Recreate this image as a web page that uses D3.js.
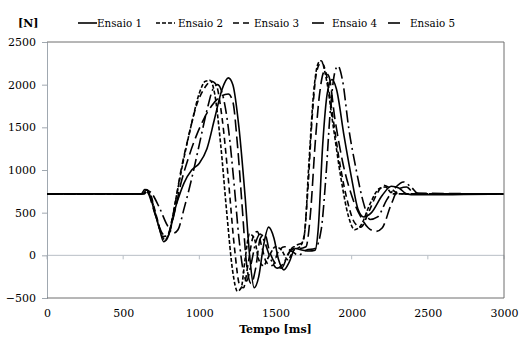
<!DOCTYPE html>
<html><head><meta charset="utf-8">
<script src="https://cdn.jsdelivr.net/npm/d3@7"></script>
<style>body{margin:0;background:#fff;}svg{display:block;}</style>
</head><body>
<svg id="c" width="519" height="338"></svg>
<script>
const seriesNames = ["Ensaio 1","Ensaio 2","Ensaio 3","Ensaio 4","Ensaio 5"];
const xTicks = [0,500,1000,1500,2000,2500,3000];
const yTicks = [-500,0,500,1000,1500,2000,2500];

const ensaio1 = [[0,720],[620,720],[640,770],[660,760],[700,550],[740,300],[765,160],[790,200],[850,600],[900,850],[950,1000],[1000,1080],[1050,1250],[1100,1600],[1150,1950],[1190,2080],[1220,2000],[1260,1500],[1300,700],[1330,0],[1360,-380],[1390,-250],[1420,100],[1455,330],[1490,200],[1520,-50],[1555,-170],[1590,-80],[1630,80],[1680,60],[1720,50],[1760,60],[1780,300],[1810,1300],[1840,1900],[1870,2060],[1900,1950],[1950,1400],[2000,900],[2040,550],[2080,450],[2130,500],[2200,700],[2260,810],[2310,790],[2360,720],[2420,710],[3000,720]];
const ensaio2 = [[0,720],[630,720],[650,760],[670,740],[710,500],[750,250],[775,180],[800,260],[850,700],[900,1150],[950,1550],[1000,1900],[1040,2040],[1070,2050],[1100,1900],[1140,1300],[1180,500],[1220,-200],[1250,-420],[1275,-380],[1300,-50],[1330,250],[1360,200],[1390,-50],[1420,-120],[1460,0],[1500,100],[1540,60],[1580,-50],[1620,60],[1660,100],[1690,250],[1720,1100],[1750,1900],[1780,2250],[1800,2280],[1830,2100],[1880,1500],[1930,900],[1980,450],[2020,300],[2060,350],[2120,600],[2180,780],[2220,800],[2270,720],[3000,720]];
const ensaio3 = [[0,720],[630,720],[650,770],[670,750],[720,450],[760,220],[790,230],[830,500],[880,1000],[930,1400],[980,1750],[1030,1950],[1080,2040],[1110,2000],[1150,1600],[1190,900],[1230,100],[1265,-350],[1290,-380],[1320,-100],[1350,200],[1380,280],[1410,100],[1440,-80],[1480,-120],[1520,50],[1560,100],[1600,60],[1640,120],[1680,150],[1710,700],[1740,1600],[1770,2150],[1800,2260],[1830,2150],[1870,1700],[1920,1100],[1970,650],[2020,380],[2060,330],[2110,500],[2160,700],[2210,820],[2260,780],[2310,720],[3000,720]];
const ensaio4 = [[0,720],[620,720],[640,760],[660,740],[710,480],[760,250],[790,220],[830,450],[880,850],[930,1150],[980,1400],[1030,1600],[1080,1750],[1130,1850],[1190,1890],[1220,1800],[1250,1300],[1280,600],[1310,-100],[1340,-330],[1370,-150],[1400,200],[1430,250],[1460,50],[1500,-100],[1540,-150],[1580,0],[1620,100],[1660,80],[1700,100],[1730,500],[1760,1300],[1790,1900],[1820,2150],[1850,2100],[1890,1600],[1940,1100],[2000,700],[2060,450],[2110,320],[2160,280],[2200,320],[2260,600],[2310,780],[2360,800],[2410,730],[3000,720]];
const ensaio5 = [[0,720],[640,720],[660,760],[680,740],[740,550],[790,350],[830,260],[860,300],[900,550],[950,900],[1000,1300],[1050,1700],[1090,1950],[1120,2000],[1150,1900],[1190,1500],[1230,800],[1260,200],[1290,-200],[1310,-300],[1340,-100],[1370,150],[1400,250],[1430,150],[1470,-50],[1510,-150],[1550,-100],[1600,50],[1650,0],[1700,60],[1760,80],[1800,300],[1830,900],[1860,1700],[1890,2150],[1910,2220],[1940,2050],[1980,1500],[2030,1000],[2080,600],[2120,420],[2170,450],[2230,650],[2290,800],[2340,860],[2390,800],[2440,720],[3000,720]];
const allSeries = [ensaio1, ensaio2, ensaio3, ensaio4, ensaio5];
const dashes = [null, "4,2", "6,4", "12,5", "12,4,2,4"];

const FONT = "'DejaVu Serif',serif";
const FS = 11;
const svg = d3.select("#c");
const L = 47, R = 504, T = 42, B = 298;
const x = d3.scaleLinear().domain([0,3000]).range([L,R]);
const y = d3.scaleLinear().domain([-500,2500]).range([B,T]);

// zero line with ticks
svg.append("line").attr("x1",L).attr("x2",R).attr("y1",y(0)).attr("y2",y(0)).attr("stroke","#b8bfc6").attr("stroke-width",1);
svg.append("g").selectAll("line").data(xTicks).join("line")
  .attr("x1",d=>x(d)).attr("x2",d=>x(d)).attr("y1",y(0)).attr("y2",y(0)+4).attr("stroke","#b8bfc6");

// left axis
const yAxis = d3.axisLeft(y).tickValues(yTicks).tickSize(5).tickPadding(6).tickFormat(d3.format("d"));
const gy = svg.append("g").attr("transform",`translate(${L},0)`).call(yAxis).attr("font-family",FONT).attr("font-size",FS);
gy.select(".domain").attr("stroke","#a0a8b0");
gy.selectAll(".tick line").attr("stroke","#a0a8b0");

// x labels
const xAxis = d3.axisBottom(x).tickValues(xTicks).tickSize(0).tickPadding(11).tickFormat(d3.format("d"));
const gx = svg.append("g").attr("transform",`translate(0,${B})`).call(xAxis).attr("font-family",FONT).attr("font-size",FS);
gx.select(".domain").remove();

// lines
const line = d3.line().x(d=>x(d[0])).y(d=>y(d[1])).curve(d3.curveMonotoneX);
allSeries.forEach((s,i)=>{
  svg.append("path").attr("d",line(s)).attr("fill","none").attr("stroke","#000")
    .attr("stroke-width",1.6).attr("stroke-dasharray",dashes[i]);
});

// border
svg.append("line").attr("x1",L).attr("x2",R).attr("y1",T).attr("y2",T).attr("stroke","#6e6e6e");
svg.append("line").attr("x1",R).attr("x2",R).attr("y1",T).attr("y2",B).attr("stroke","#6e6e6e");
svg.append("line").attr("x1",L).attr("x2",R).attr("y1",B).attr("y2",B).attr("stroke","#6e6e6e");

// titles
svg.append("text").attr("x",18).attr("y",27).attr("font-family",FONT).attr("font-size",FS).attr("font-weight","bold").text("[N]");
svg.append("text").attr("x",(L+R)/2).attr("y",333).attr("text-anchor","middle").attr("font-family",FONT).attr("font-size",FS).attr("font-weight","bold").text("Tempo [ms]");

// legend
const legX = [78,156,233,312,388];
const legW = [19,19,19,12,12];
const txtX = [97,178,254,332,410];
seriesNames.forEach((n,i)=>{
  svg.append("line").attr("x1",legX[i]).attr("x2",legX[i]+legW[i]).attr("y1",23).attr("y2",23)
    .attr("stroke","#000").attr("stroke-width",1.6).attr("stroke-dasharray",dashes[i]);
  svg.append("text").attr("x",txtX[i]).attr("y",27).attr("font-family",FONT).attr("font-size",FS)
    .attr("textLength",45).attr("lengthAdjust","spacingAndGlyphs").text(n);
});
</script>
</body></html>
